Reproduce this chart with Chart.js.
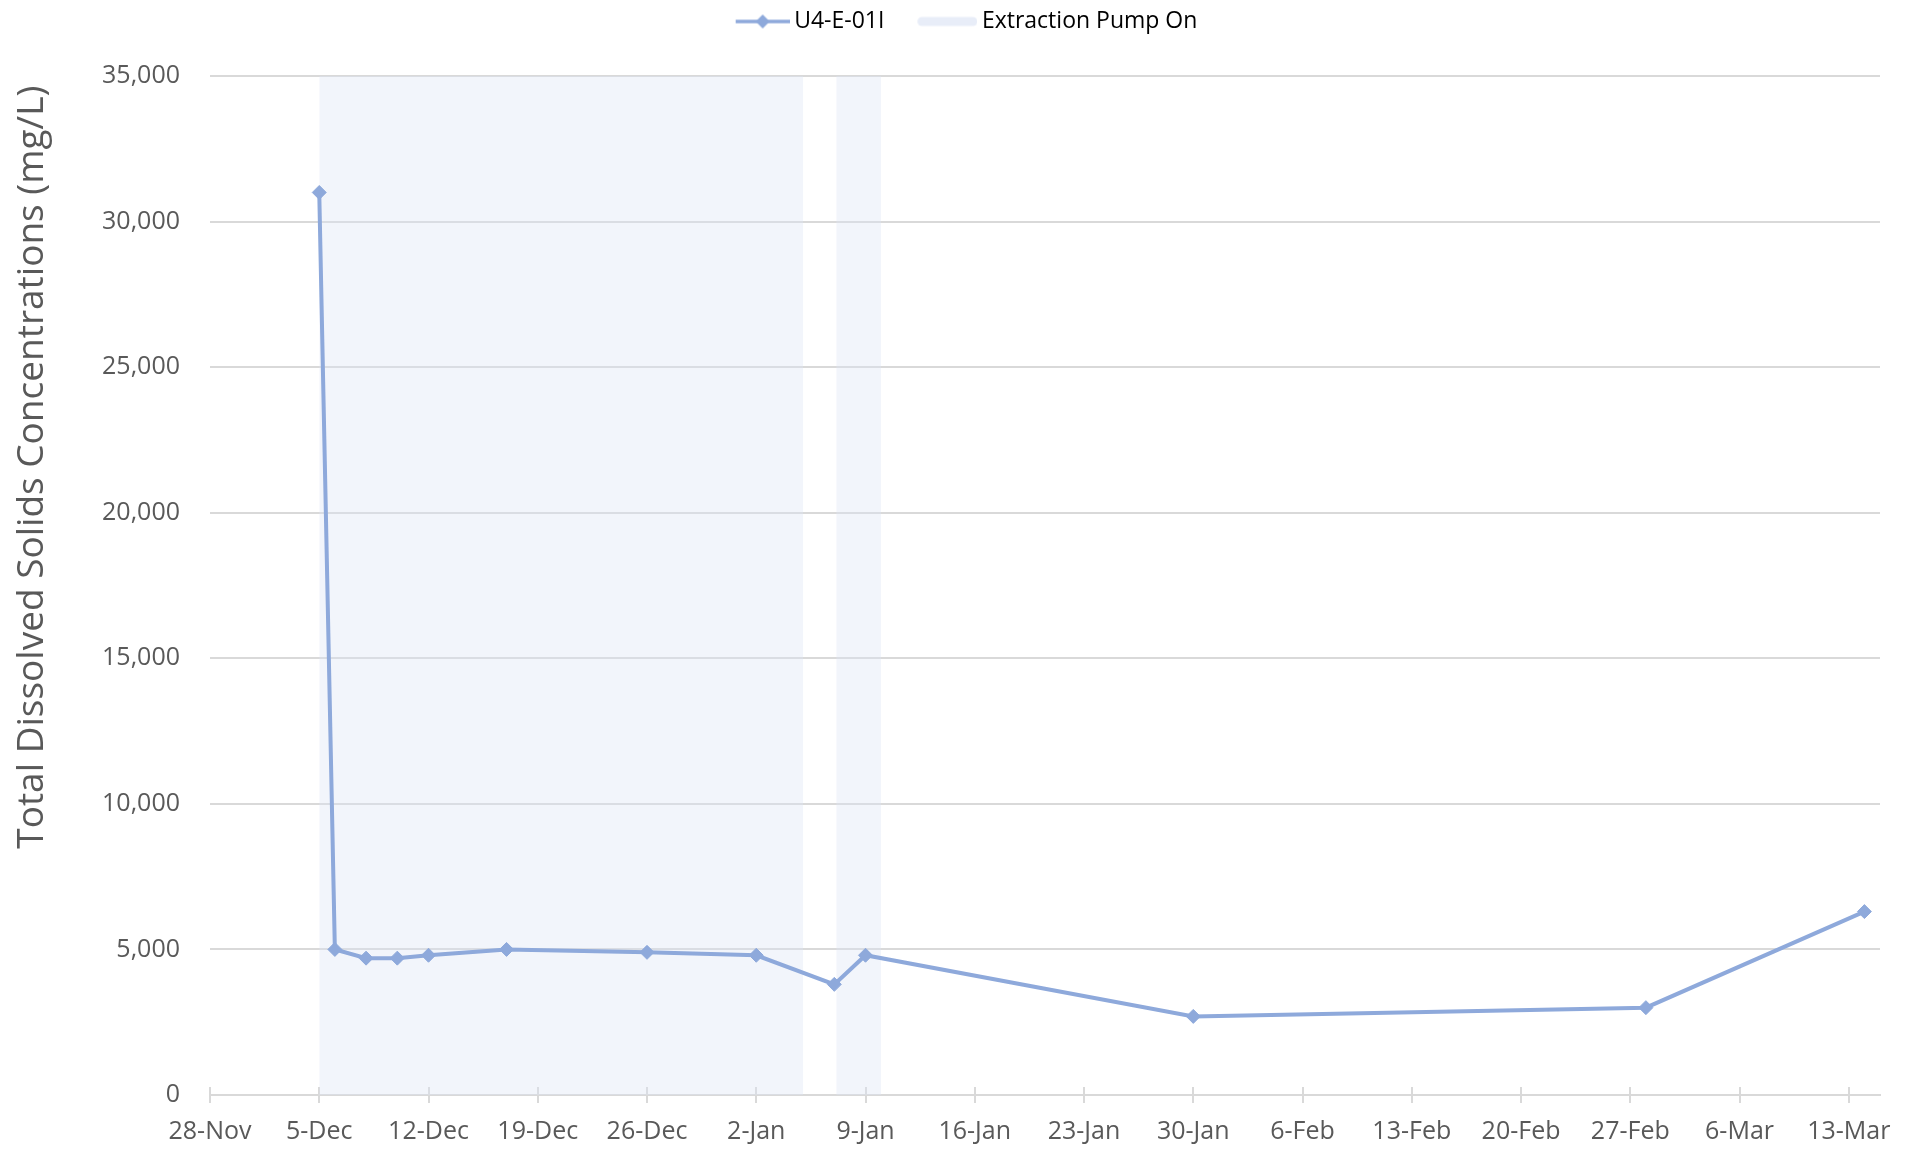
<!DOCTYPE html>
<html>
<head>
<meta charset="utf-8">
<title>U4-E-01I Total Dissolved Solids</title>
<script src="https://cdn.jsdelivr.net/npm/chart.js@4.4.1/dist/chart.umd.min.js"></script>
<style>
body { margin: 0; background: #fff; }
#wrap { width: 1917px; height: 1149px; }
</style>
</head>
<body>
<div id="wrap"><canvas id="tdsChart" width="1917" height="1149"></canvas></div>
<script>
// DATA
const seriesLabel = "U4-E-01I";
const pumpLabel = "Extraction Pump On";
const yTitle = "Total Dissolved Solids Concentrations (mg/L)";

const sampleDates = [
  "2022-12-05", "2022-12-06", "2022-12-08", "2022-12-10", "2022-12-12",
  "2022-12-17", "2022-12-26", "2023-01-02", "2023-01-07", "2023-01-09",
  "2023-01-30", "2023-02-28", "2023-03-14"
];
const tdsValues = [31000, 5000, 4700, 4700, 4800, 5000, 4900, 4800, 3800, 4800, 2700, 3000, 6300];

const pumpStarts = ["2022-12-05", "2023-01-07T03:00"];
const pumpEnds = ["2023-01-05", "2023-01-10"];

const xTickDates = [
  "2022-11-28", "2022-12-05", "2022-12-12", "2022-12-19", "2022-12-26", "2023-01-02",
  "2023-01-09", "2023-01-16", "2023-01-23", "2023-01-30", "2023-02-06", "2023-02-13",
  "2023-02-20", "2023-02-27", "2023-03-06", "2023-03-13"
];
const xStart = "2022-11-28";
const xEnd = "2023-03-15";
const yTicks = [0, 5000, 10000, 15000, 20000, 25000, 30000, 35000];

const monthNames = ["Jan", "Feb", "Mar", "Apr", "May", "Jun", "Jul", "Aug", "Sep", "Oct", "Nov", "Dec"];

// COLOURS
const lineColor = "#8EA9DB";
const shadeColor = "rgba(222,228,245,0.38)";
const gridColor = "#D9D9D9";
const tickColor = "#595959";

// HELPERS
function toDay(s) {
  const iso = s.length === 10 ? s + "T00:00Z" : s + "Z";
  return (Date.parse(iso) - Date.parse(xStart + "T00:00Z")) / 86400000;
}

function dayLabel(d) {
  const dt = new Date(Date.parse(xStart + "T00:00Z") + d * 86400000);
  return dt.getUTCDate() + "-" + monthNames[dt.getUTCMonth()];
}

function seriesIcon() {
  const c = document.createElement("canvas");
  c.width = 90; c.height = 18;
  const g = c.getContext("2d");
  g.strokeStyle = lineColor;
  g.lineWidth = 3.5;
  g.beginPath(); g.moveTo(36, 9); g.lineTo(90, 9); g.stroke();
  g.fillStyle = lineColor;
  g.beginPath(); g.moveTo(63, 2); g.lineTo(70, 9); g.lineTo(63, 16); g.lineTo(56, 9); g.closePath(); g.fill();
  return c;
}

function pumpIcon() {
  const c = document.createElement("canvas");
  c.width = 90; c.height = 18;
  const g = c.getContext("2d");
  g.strokeStyle = "#E8EDF8";
  g.lineWidth = 9;
  g.lineCap = "round";
  g.beginPath(); g.moveTo(34.5, 9); g.lineTo(85.5, 9); g.stroke();
  return c;
}

// PLUGINS
const legendSpacer = {
  id: "legendSpacer",
  beforeLayout(chart) {
    const legend = chart.legend;
    if (!legend || legend._spaced) return;
    const fit = legend.fit;
    legend.fit = function () { fit.call(this); this.height += 33; };
    legend._spaced = true;
  },
  afterLayout(chart) {
    // nudge the legend so it sits where the original one does
    chart.legend.left += 12;
    chart.legend.right += 12;
  }
};

// ticks on the date axis cross the axis line
const crossTicks = {
  id: "crossTicks",
  beforeDatasetsDraw(chart) {
    const x = chart.scales.x;
    const ctx = chart.ctx;
    ctx.save();
    ctx.strokeStyle = gridColor;
    ctx.lineWidth = 2;
    x.ticks.forEach(t => {
      const px = Math.round(x.getPixelForValue(t.value));
      ctx.beginPath();
      ctx.moveTo(px, x.top - 8);
      ctx.lineTo(px, x.top);
      ctx.stroke();
    });
    ctx.restore();
  }
};

// CHART
Chart.defaults.font.family = "'Open Sans', sans-serif";

const seriesPoints = sampleDates.map((d, i) => ({ x: toDay(d), y: tdsValues[i] }));
const yMax = yTicks[yTicks.length - 1];

const datasets = [
  {
    label: seriesLabel,
    data: seriesPoints,
    borderColor: lineColor,
    backgroundColor: lineColor,
    borderWidth: 4,
    pointStyle: "rectRot",
    pointRadius: 7,
    pointBorderWidth: 1,
    pointBackgroundColor: lineColor,
    pointBorderColor: lineColor,
    tension: 0,
    fill: false,
    order: 0
  }
];

pumpStarts.forEach((s, i) => {
  datasets.push({
    label: pumpLabel,
    data: [{ x: toDay(s), y: yMax }, { x: toDay(pumpEnds[i]), y: yMax }],
    backgroundColor: shadeColor,
    borderWidth: 0,
    pointRadius: 0,
    pointHoverRadius: 0,
    fill: "origin",
    order: 1
  });
});

const tdsChart = new Chart(document.getElementById("tdsChart"), {
  type: "line",
  data: { datasets: datasets },
  options: {
    responsive: false,
    animation: false,
    events: [],
    layout: { padding: { left: 0, right: 37, top: 0, bottom: 0 } },
    plugins: {
      tooltip: { enabled: false },
      legend: {
        position: "top",
        align: "center",
        labels: {
          usePointStyle: true,
          pointStyleWidth: 76,
          padding: 10,
          color: "#222",
          font: { size: 23 },
          generateLabels: () => [
            { text: seriesLabel, pointStyle: seriesIcon(), datasetIndex: 0, hidden: false, lineWidth: 0 },
            { text: pumpLabel, pointStyle: pumpIcon(), datasetIndex: 1, hidden: false, lineWidth: 0 }
          ]
        }
      }
    },
    scales: {
      x: {
        type: "linear",
        min: 0,
        max: toDay(xEnd),
        afterBuildTicks: scale => { scale.ticks = xTickDates.map(d => ({ value: toDay(d) })); },
        afterFit: scale => { scale.height = 54; },
        grid: { drawOnChartArea: false, drawTicks: true, tickLength: 8, color: gridColor, lineWidth: 2 },
        border: { display: true, color: gridColor, width: 2 },
        ticks: {
          autoSkip: false,
          maxRotation: 0,
          padding: 14,
          color: tickColor,
          font: { size: 25 },
          callback: v => dayLabel(v)
        }
      },
      y: {
        min: 0,
        max: yMax,
        afterBuildTicks: scale => { scale.ticks = yTicks.map(v => ({ value: v })); },
        afterFit: scale => { scale.width = 210; },
        grid: { drawTicks: false, color: gridColor, lineWidth: 2 },
        border: { display: false },
        ticks: {
          padding: 30,
          color: tickColor,
          font: { size: 25 },
          callback: v => v.toLocaleString("en-US")
        },
        title: {
          display: true,
          text: yTitle + " ",
          align: "end",
          color: tickColor,
          font: { size: 37 },
          padding: { top: 10, bottom: 0 }
        }
      }
    }
  },
  plugins: [legendSpacer, crossTicks]
});
</script>
</body>
</html>
